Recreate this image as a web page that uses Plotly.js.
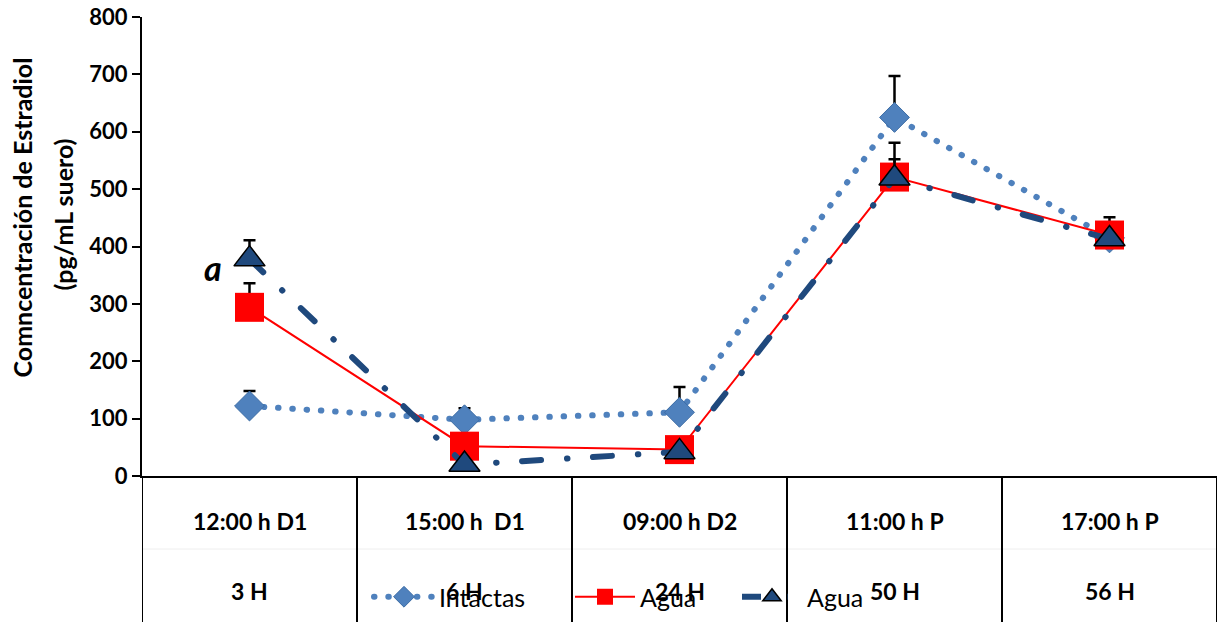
<!DOCTYPE html>
<html>
<head>
<meta charset="utf-8">
<script src="https://cdn.plot.ly/plotly-3.0.1.min.js"></script>
<style>
  html, body { margin: 0; padding: 0; background: #ffffff; }
  #chart { width: 1218px; height: 622px; }
  .scatterlayer .js-line, .legend .js-line { stroke-linecap: round; }
</style>
</head>
<body>
<div id="chart"></div>
<script>
// Sampling times (upper row) and hours elapsed (lower row)
const timeLabels = ['12:00 h D1', '15:00 h  D1', '09:00 h D2', '11:00 h P', '17:00 h P'];
const hourLabels = ['3 H', '6 H', '24 H', '50 H', '56 H'];

// Estradiol concentration (pg/mL suero) and upper error for each group
const intactas = [122, 98, 111, 625, 415];
const intactasErr = [26, 20, 44, 72, 8];
const aguaSq = [294, 52, 46, 521, 420];
const aguaSqErr = [42, 8, 8, 60, 31];
const aguaTri = [378, 20, 42, 519, 413];
const aguaTriErr = [33, 8, 8, 33, 8];

const seriesNames = ['Intactas', 'Agua', 'Agua'];
const titleLines = ['Comncentración de Estradiol', '(pg/mL suero)'];

const xs = timeLabels.map((_, i) => i);
const upOnly = (arr) => ({
  type: 'data', symmetric: false, array: arr, arrayminus: arr.map(() => 0),
  color: '#000000', thickness: 2.5, width: 6, visible: true
});

const traces = [
  {
    x: xs, y: intactas, name: seriesNames[0], type: 'scatter', mode: 'lines+markers', legend: 'legend',
    line: { color: '#4F81BD', width: 6, dash: '0.5px,13.8px' },
    marker: { symbol: 'diamond', size: 23, color: '#4F81BD', line: { color: '#3D6DA5', width: 1 } },
    error_y: upOnly(intactasErr)
  },
  {
    x: xs, y: aguaSq, name: seriesNames[1], type: 'scatter', mode: 'lines+markers', legend: 'legend2',
    line: { color: '#FF0000', width: 2 },
    marker: { symbol: 'square', size: 29, color: '#FF0000' },
    error_y: upOnly(aguaSqErr)
  },
  {
    x: xs, y: aguaTri, name: seriesNames[2], type: 'scatter', mode: 'lines+markers', legend: 'legend3',
    line: { color: '#1F497D', width: 6, dash: '19px,26px,0.5px,25.5px' },
    marker: { symbol: 'triangle-up', size: 27, color: '#1F497D', line: { color: '#000000', width: 1.5 } },
    error_y: upOnly(aguaTriErr)
  }
];

const plotW = 1218 - 142 - 1;
const plotH = 622 - 17 - 146;
const tableBottom = -146 / plotH;
const fontFam = 'Lato, "Open Sans", sans-serif';

const shapes = [];
// vertical cell borders of the category table
for (let i = 0; i <= timeLabels.length; i++) {
  shapes.push({
    type: 'line', xref: 'x', yref: 'paper', x0: i - 0.5, x1: i - 0.5, y0: 0, y1: tableBottom,
    line: { color: '#000000', width: 2 }, layer: 'above'
  });
}
// faint divider between the two label rows
shapes.push({
  type: 'line', xref: 'x', yref: 'paper', x0: -0.5, x1: timeLabels.length - 0.5,
  y0: -73 / plotH, y1: -73 / plotH, line: { color: '#EEEEEE', width: 1 }, layer: 'below'
});

const labelFont = { family: fontFam, size: 23, color: '#000000' };
const annotations = [];
timeLabels.forEach((t, i) => {
  annotations.push({ x: i, y: -45 / plotH, xref: 'x', yref: 'paper', text: '<b>' + t + '</b>',
    showarrow: false, xanchor: 'center', yanchor: 'middle', font: labelFont });
  annotations.push({ x: i, y: -115 / plotH, xref: 'x', yref: 'paper', text: '<b>' + hourLabels[i] + '</b>',
    showarrow: false, xanchor: 'center', yanchor: 'middle', font: labelFont });
});
// axis title, two lines
const titleX = [-121, -80];
const titleY = [29, 32];
titleLines.forEach((t, k) => {
  annotations.push({
    xref: 'paper', yref: 'paper', x: 0, y: 0.5, xshift: titleX[k], yshift: titleY[k],
    text: '<b>' + t + '</b>', textangle: -90,
    showarrow: false, xanchor: 'center', yanchor: 'middle',
    font: { family: fontFam, size: 25, color: '#000000' }
  });
});
// significance mark
annotations.push({
  xref: 'x', yref: 'y', x: 0, y: aguaTri[0], xshift: -37, yshift: -8,
  text: '<b><i>a</i></b>', showarrow: false, xanchor: 'center', yanchor: 'middle',
  font: { family: fontFam, size: 34, color: '#000000' }
});

// one legend box per series, laid out along the bottom row
const legendBox = (px) => ({
  orientation: 'h', x: (px - 142) / plotW, xanchor: 'left', y: -121 / plotH, yanchor: 'middle',
  bgcolor: 'rgba(0,0,0,0)', itemwidth: 60,
  font: { family: fontFam, size: 25, color: '#000000' }
});

const layout = {
  width: 1218, height: 622,
  margin: { l: 142, r: 1, t: 17, b: 146, pad: 0 },
  paper_bgcolor: '#ffffff', plot_bgcolor: '#ffffff',
  showlegend: true,
  legend: legendBox(369),
  legend2: legendBox(570),
  legend3: legendBox(737),
  xaxis: {
    range: [-0.5, 4.5], showticklabels: false, ticks: '', showgrid: false, zeroline: false,
    showline: true, linecolor: '#000000', linewidth: 2, fixedrange: true
  },
  yaxis: {
    range: [0, 800], tickvals: [0, 100, 200, 300, 400, 500, 600, 700, 800],
    ticks: 'outside', ticklen: 8, tickwidth: 2, tickcolor: '#000000',
    showgrid: false, zeroline: false, showline: true, linecolor: '#000000', linewidth: 2,
    tickfont: { family: fontFam, size: 22, color: '#000000', weight: 'bold' },
    ticklabelstandoff: 0, fixedrange: true
  },
  shapes: shapes,
  annotations: annotations
};

Plotly.newPlot('chart', traces, layout, { displayModeBar: false, staticPlot: true });
</script>
</body>
</html>
